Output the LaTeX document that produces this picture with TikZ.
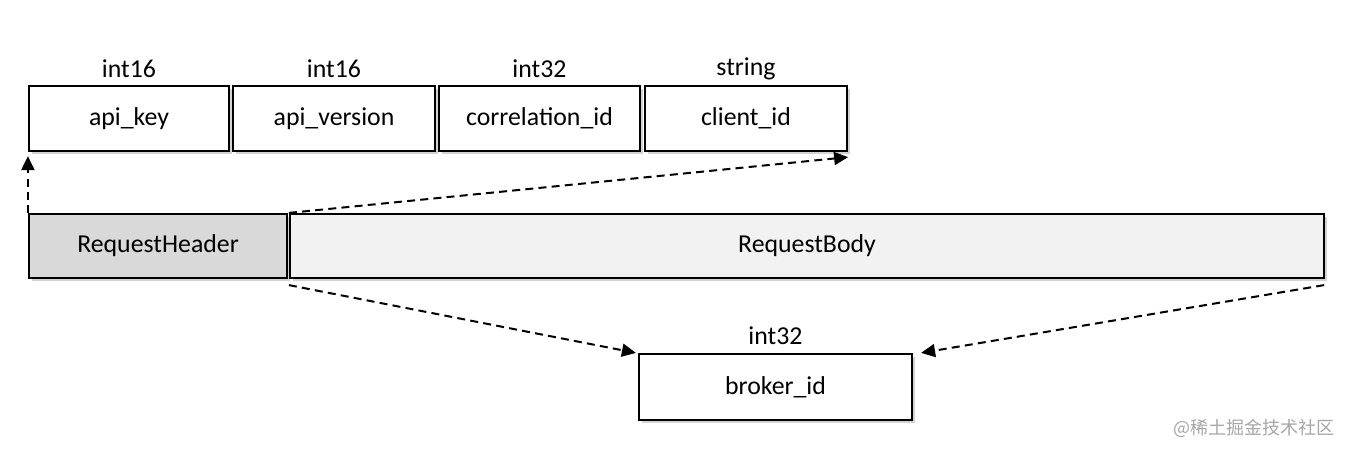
\documentclass[tikz,border=0pt]{standalone}
\usepackage{fontspec}
\setmainfont{Carlito}
\newfontfamily\cjk{Noto Sans CJK SC}
\usetikzlibrary{shadows,arrows.meta}
\definecolor{hdrfill}{HTML}{D9D9D9}
\definecolor{bodyfill}{HTML}{F2F2F2}
\definecolor{wmgray}{HTML}{A6A6A6}
\tikzset{
  fieldbox/.style={draw=black, line width=1.1pt, fill=white, inner sep=0pt,
    font=\fontsize{12.9}{14}\selectfont,
    drop shadow={opacity=0.35, shadow xshift=1.6pt, shadow yshift=-1.6pt}},
  typelabel/.style={font=\fontsize{12.9}{14}\selectfont, inner sep=0pt},
  conn/.style={-{Triangle[length=7pt,width=6.5pt]}, line width=1pt, dash pattern=on 4pt off 2.6pt}
}
\begin{document}
\begin{tikzpicture}[x=0.5pt,y=-0.5pt]
\useasboundingbox (0,0) rectangle (1348,452);
% top fields
\node[fieldbox, minimum width=100pt, minimum height=32.5pt] (key) at (129,118.5) {api\_key};
\node[fieldbox, minimum width=101pt, minimum height=32.5pt] (ver) at (334,118.5) {api\_version};
\node[fieldbox, minimum width=100.5pt, minimum height=32.5pt] (cor) at (539.5,118.5) {correlation\_id};
\node[fieldbox, minimum width=101pt, minimum height=32.5pt] (cli) at (746,118.5) {client\_id};
\node[typelabel] (tkey) at (129,69) {int16};
\node[typelabel] (tver) at (334,69) {int16};
\node[typelabel] (tcor) at (539.5,69) {int32};
\node[typelabel] (tcli) at (746,69) {string};
% request
\node[fieldbox, fill=hdrfill, minimum width=129pt, minimum height=32pt] (hdr) at (158,246) {RequestHeader};
\node[fieldbox, fill=bodyfill, minimum width=517pt, minimum height=32pt] (body) at (807,246) {RequestBody};
% broker
\node[fieldbox, minimum width=136.5pt, minimum height=33pt] (brk) at (775.5,387) {broker\_id};
\node[typelabel] (tbrk) at (775.5,336) {int32};
% connectors
\coordinate (a1) at ([yshift=-2pt]key.south west);
\coordinate (a2) at ([yshift=-2.5pt]cli.south east);
\coordinate (b1) at ([yshift=-3pt]body.south west);
\coordinate (b2) at ([yshift=-3pt,xshift=-0.5pt]body.south east);
\coordinate (c1) at ([xshift=-1pt]brk.north west);
\coordinate (c2) at ([xshift=4pt]brk.north east);
\draw[conn] (hdr.north west) -- (a1);
\draw[conn] (body.north west) -- (a2);
\draw[conn] (b1) -- (c1);
\draw[conn] (b2) -- (c2);
% watermark
\node[text=wmgray, font=\cjk\fontsize{9}{10}\selectfont, inner sep=0pt] (wm) at (1254,428) {@稀土掘金技术社区};
\end{tikzpicture}
\end{document}
